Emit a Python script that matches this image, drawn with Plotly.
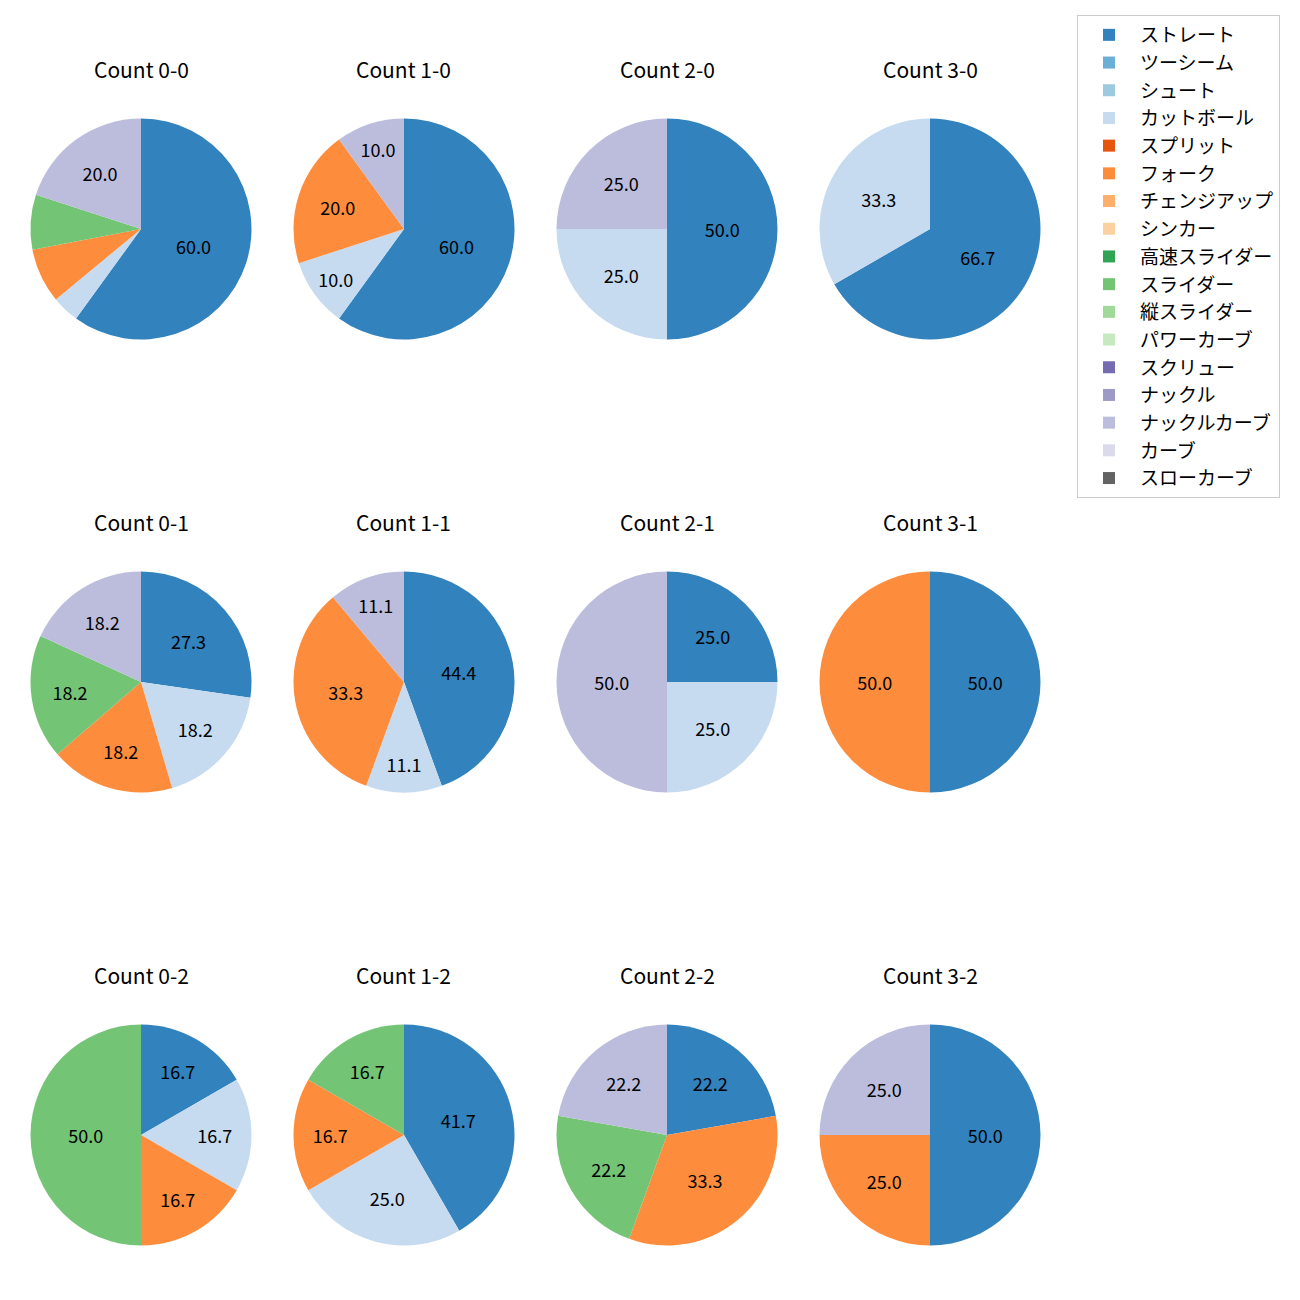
import plotly.graph_objects as go

pitch_types = ["ストレート", "ツーシーム", "シュート", "カットボール", "スプリット", "フォーク",
               "チェンジアップ", "シンカー", "高速スライダー", "スライダー", "縦スライダー",
               "パワーカーブ", "スクリュー", "ナックル", "ナックルカーブ", "カーブ", "スローカーブ"]
colors = ["#3182bd", "#6baed6", "#9ecae1", "#c6dbef", "#e6550d", "#fd8d3c", "#fdae6b", "#fdd0a2",
          "#31a354", "#74c476", "#a1d99b", "#c7e9c0", "#756bb1", "#9e9ac8", "#bcbddc", "#dadaeb",
          "#636363"]

counts = ["0-0", "1-0", "2-0", "3-0", "0-1", "1-1", "2-1", "3-1", "0-2", "1-2", "2-2", "3-2"]

straight = [15, 6, 2, 2, 3, 4, 1, 1, 1, 5, 2, 2]
cutball = [1, 1, 1, 1, 2, 1, 1, 0, 1, 3, 0, 0]
fork = [2, 2, 0, 0, 2, 3, 0, 1, 1, 2, 3, 1]
slider = [2, 0, 0, 0, 2, 0, 0, 0, 3, 2, 2, 0]
knuckle_curve = [5, 1, 1, 0, 2, 1, 2, 0, 0, 0, 2, 1]

series = {"ストレート": straight, "カットボール": cutball, "フォーク": fork,
          "スライダー": slider, "ナックルカーブ": knuckle_curve}

W = H = 1300
FONT = "Noto Sans CJK JP"
col_cx = [141, 404, 667, 930]
row_cy = [229, 682, 1135]
R = 110.5

fig = go.Figure()
annotations = []
for k, c in enumerate(counts):
    r, ci = divmod(k, 4)
    vals = [series[p][k] if p in series else 0 for p in pitch_types]
    tot = sum(vals)
    texts = [f"{100 * v / tot:.1f}" if tot and 100 * v / tot >= 10 else "" for v in vals]
    cx, cy = col_cx[ci], row_cy[r]
    fig.add_trace(go.Pie(
        labels=pitch_types, values=vals, text=texts, textinfo="text",
        textposition="inside", insidetextorientation="horizontal",
        textfont=dict(color="black", size=18, family=FONT),
        marker=dict(colors=colors, line=dict(width=0)),
        sort=False, direction="clockwise", rotation=0,
        hoverinfo="label+percent",
        showlegend=(k == 0),
        domain=dict(x=[(cx - R) / W, (cx + R) / W], y=[(H - cy - R) / H, (H - cy + R) / H]),
    ))
    annotations.append(dict(text=f"Count {c}", x=cx / W, y=(H - cy + 160) / H,
                            xref="paper", yref="paper", showarrow=False,
                            font=dict(size=21, color="black", family=FONT),
                            xanchor="center", yanchor="middle"))

fig.update_layout(
    width=W, height=H, margin=dict(l=0, r=0, t=0, b=0),
    paper_bgcolor="white", plot_bgcolor="white",
    font=dict(family=FONT, color="black"),
    annotations=annotations,
    legend=dict(x=1077 / W, y=(H - 15) / H, xanchor="left", yanchor="top",
                bordercolor="#cccccc", borderwidth=1, bgcolor="white",
                itemwidth=52,
                font=dict(size=19, family=FONT), traceorder="normal"),
)
fig.write_html("out.html")
